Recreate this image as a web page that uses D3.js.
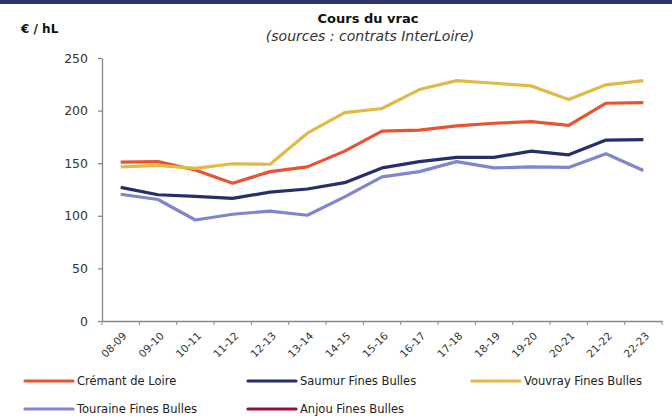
<!DOCTYPE html>
<html>
<head>
<meta charset="utf-8">
<script src="https://cdn.jsdelivr.net/npm/d3@7"></script>
<style>
  body { margin: 0; background: #fff; }
  svg { font-family: "DejaVu Sans", sans-serif; }
</style>
</head>
<body>
<svg id="chart" width="672" height="419"></svg>
<script>
var width = 672, height = 419;

var seasons = ["08-09","09-10","10-11","11-12","12-13","13-14","14-15","15-16","16-17","17-18","18-19","19-20","20-21","21-22","22-23"];
var yTicks = [0, 50, 100, 150, 200, 250];

var cremant  = [151, 151.5, 143.5, 131, 142, 146.5, 161.5, 180.5, 181.5, 185.5, 188, 189.5, 186, 207, 207.5];
var saumur   = [127, 120, 118.5, 116.5, 122.5, 125.5, 131.5, 145.5, 151.5, 155.5, 155.5, 161.5, 158, 172, 172.5];
var vouvray  = [146.5, 148, 145, 149.5, 149, 178.5, 198, 202, 220, 228.5, 226, 223.5, 210.5, 224.5, 228.5];
var touraine = [120.5, 115.5, 96, 101.5, 104.5, 100.5, 118, 137, 142, 151.5, 145.5, 146.5, 146, 159, 143];
var anjou    = [];

var series = [
  {name: "Crémant de Loire", values: cremant, color: "#e8542f"},
  {name: "Saumur Fines Bulles", values: saumur, color: "#262f69"},
  {name: "Vouvray Fines Bulles", values: vouvray, color: "#e1b945"},
  {name: "Touraine Fines Bulles", values: touraine, color: "#7f86cf"},
  {name: "Anjou Fines Bulles", values: anjou, color: "#9b0b48"}
];

function draw()
{
  var svg = d3.select("svg");

  // bandeau du haut
  svg.append("rect").attr("x", 0).attr("y", 0).attr("width", width).attr("height", 4).attr("fill", "#2b3467");

  svg.append("text").attr("x", 368).attr("y", 23).attr("text-anchor", "middle")
    .attr("font-size", 13).attr("font-weight", "bold").attr("fill", "#111").text("Cours du vrac");
  svg.append("text").attr("x", 370).attr("y", 41).attr("text-anchor", "middle")
    .attr("font-size", 14).attr("font-style", "italic").attr("fill", "#333").text("(sources : contrats InterLoire)");
  svg.append("text").attr("x", 21).attr("y", 33)
    .attr("font-size", 12).attr("font-weight", "bold").attr("fill", "#111").text("€ / hL");

  var x = d3.scaleBand().domain(seasons).range([102, 662]),
      y = d3.scaleLinear().domain([0, 250]).range([321, 58]);

  var yAxis = svg.append("g").attr("transform", "translate(102,0)")
    .call(d3.axisLeft(y).tickValues(yTicks).tickSize(4).tickPadding(10).tickSizeOuter(0));
  yAxis.selectAll("text").attr("font-size", 12.5).attr("fill", "#333").attr("font-family", "DejaVu Sans");

  var xAxis = svg.append("g").attr("transform", "translate(0,321)")
    .call(d3.axisBottom(x).tickSize(0).tickSizeOuter(0).tickPadding(0));
  xAxis.selectAll(".tick line").remove();
  xAxis.selectAll("text")
    .attr("font-size", 10.5).attr("fill", "#333").attr("font-family", "DejaVu Sans")
    .attr("text-anchor", "end").attr("dy", "0.35em")
    .attr("transform", "translate(4,13) rotate(-45)");
  // graduations aux limites des catégories
  xAxis.selectAll(".sep").data(seasons.concat(["end"])).enter().append("line")
    .attr("x1", function(d, i) { return 102 + i * x.bandwidth(); })
    .attr("x2", function(d, i) { return 102 + i * x.bandwidth(); })
    .attr("y1", 0).attr("y2", 4).attr("stroke", "#888");

  svg.selectAll(".domain, .tick line").attr("stroke", "#888").attr("stroke-width", 1.3);

  var line = d3.line()
    .x(function(d, i) { return x(seasons[i]) + x.bandwidth() / 2; })
    .y(function(d) { return y(d); });

  series.forEach(function(s) {
    if (!s.values.length) return;
    svg.append("path").attr("d", line(s.values))
      .attr("fill", "none").attr("stroke", s.color).attr("stroke-width", 3.2)
      .attr("stroke-linejoin", "round");
  });

  // légende
  var legX = [25, 248, 472], legY = [381, 409];
  series.forEach(function(s, i) {
    var lx = legX[i % 3], ly = legY[Math.floor(i / 3)];
    svg.append("line").attr("x1", lx).attr("x2", lx + 48).attr("y1", ly).attr("y2", ly)
      .attr("stroke", s.color).attr("stroke-width", 3.2).attr("stroke-linecap", "round");
    svg.append("text").attr("x", lx + 52).attr("y", ly).attr("dy", "0.35em")
      .attr("font-size", 11.5).attr("fill", "#222").text(s.name);
  });
}

draw();
</script>
</body>
</html>
